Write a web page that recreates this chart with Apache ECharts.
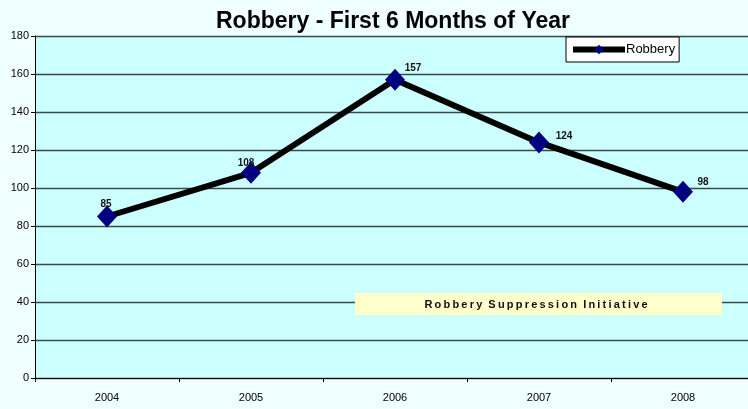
<!DOCTYPE html>
<html>
<head>
<meta charset="utf-8">
<script src="https://cdn.jsdelivr.net/npm/echarts@6/dist/echarts.min.js"></script>
<style>
  html, body { margin: 0; padding: 0; background: #F0FFFF; overflow: hidden; }
  /* plot area runs past the right edge in the original, so the canvas is a bit wider */
  #chart { width: 756px; height: 409px; }
</style>
</head>
<body>
<div id="chart"></div>
<script>
const years = ['2004', '2005', '2006', '2007', '2008'];
const robbery = [85, 108, 157, 124, 98];
// label offsets per point [dx, dy] from the marker centre
const labelOffsets = [[-1, -12], [-5, -10], [18, -11], [25, -6], [20, -10]];

const spaced = s => s.split('').join('\u2009');

const chart = echarts.init(document.getElementById('chart'));

const option = {
  backgroundColor: '#F0FFFF',
  title: {
    text: 'Robbery - First 6 Months of Year',
    left: 388,
    top: 5,
    textAlign: 'center',
    textStyle: { fontFamily: 'Liberation Sans', fontWeight: 'bold', fontSize: 23, color: '#000' }
  },
  legend: {
    left: 566,
    top: 37,
    itemWidth: 52,
    itemHeight: 12,
    itemGap: 0,
    padding: [6, 4, 6, 4],
    backgroundColor: '#fff',
    borderColor: '#000',
    borderWidth: 1,
    borderRadius: 0,
    lineStyle: { width: 6, color: '#000' },
    textStyle: { fontFamily: 'Liberation Sans', fontSize: 13, color: '#000', padding: [0, 0, 0, -4] },
    data: ['Robbery']
  },
  grid: { left: 35, right: 1, top: 36, bottom: 31, containLabel: false, show: true, backgroundColor: '#CCFFFF', borderWidth: 0 },
  xAxis: {
    type: 'category',
    data: years,
    boundaryGap: true,
    axisLine: { lineStyle: { color: '#000', width: 1 } },
    axisTick: { show: true, length: 4, lineStyle: { color: '#000' } },
    axisLabel: { fontFamily: 'Liberation Sans', fontSize: 11, color: '#000', margin: 14 }
  },
  yAxis: {
    type: 'value',
    min: 0,
    max: 180,
    interval: 20,
    axisLine: { show: true, lineStyle: { color: '#000', width: 1 } },
    axisTick: { show: true, length: 4, lineStyle: { color: '#000' } },
    axisLabel: { fontFamily: 'Liberation Sans', fontSize: 11, color: '#000', margin: 6 },
    splitLine: { show: true, lineStyle: { color: '#3a4a4a', width: 1.3 } }
  },
  graphic: [
    {
      type: 'rect',
      shape: { x: 355, y: 293, width: 367, height: 22 },
      style: { fill: '#FFFFCC' },
      z: 10
    },
    {
      type: 'text',
      x: 536,
      y: 305,
      style: {
        text: spaced('Robbery') + '  ' + spaced('Suppression') + '  ' + spaced('Initiative'),
        fontFamily: 'Liberation Sans',
        fontWeight: 'bold',
        fontSize: 11,
        fill: '#111',
        textAlign: 'center',
        textVerticalAlign: 'middle'
      },
      z: 11
    }
  ],
  series: [
    {
      name: 'Robbery',
      type: 'line',
      data: robbery.map((v, i) => ({
        value: v,
        label: { offset: labelOffsets[i] }
      })),
      symbol: 'diamond',
      symbolSize: [20, 22],
      itemStyle: { color: '#000080' },
      lineStyle: { color: '#000', width: 6 },
      z: 20,
      label: {
        show: true,
        position: 'inside',
        fontFamily: 'Liberation Sans',
        fontWeight: 'bold',
        fontSize: 10,
        color: '#111'
      }
    }
  ]
};

chart.setOption(option);
</script>
</body>
</html>
